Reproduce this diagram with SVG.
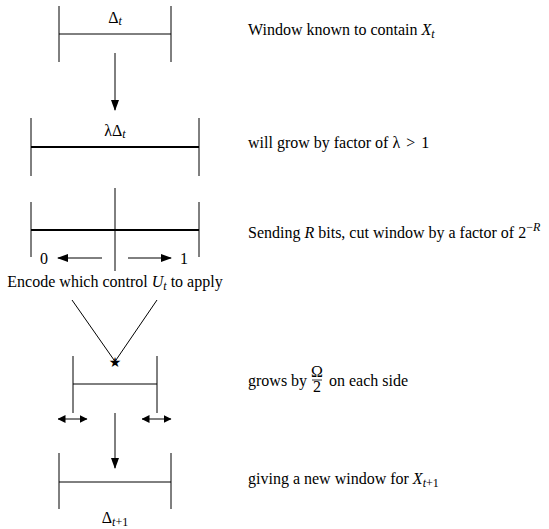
<svg xmlns="http://www.w3.org/2000/svg" width="549" height="529" viewBox="0 0 549 529">
<style>
.t{font-family:"Liberation Serif","Times New Roman",serif;font-size:16px;fill:#000}
.i{font-style:italic}
.s{font-size:12px}
.ln{stroke:#000;stroke-width:1;fill:none}
.th{stroke:#000;stroke-width:2;fill:none}
</style>
<defs>
<marker id="ah" markerWidth="11" markerHeight="8" refX="10" refY="4" orient="auto" markerUnits="userSpaceOnUse">
<path d="M0,0 L11,4 L0,8 Z" fill="#000"/>
</marker>
<marker id="sh" markerWidth="8" markerHeight="8" refX="7.5" refY="4" orient="auto-start-reverse" markerUnits="userSpaceOnUse">
<path d="M0,0 L8,4 L0,8 Z" fill="#000"/>
</marker>
</defs>
<rect width="549" height="529" fill="#fff"/>
<g id="window1">
<line class="ln" x1="59" y1="6" x2="59" y2="62"/>
<line class="ln" x1="171" y1="6" x2="171" y2="62"/>
<line class="ln" x1="59" y1="34" x2="171" y2="34"/>
<text class="t" x="115" y="23" text-anchor="middle" font-size="15">Δ<tspan class="i s" dy="2">t</tspan></text>
</g>
<g id="window2">
<line class="ln" x1="31" y1="118" x2="31" y2="176"/>
<line class="ln" x1="199" y1="118" x2="199" y2="176"/>
<line class="th" x1="31" y1="147" x2="199" y2="147"/>
<text class="t" x="115" y="136" text-anchor="middle" font-size="15">λΔ<tspan class="i s" dy="2">t</tspan></text>
</g>
<g id="window3">
<line class="ln" x1="31" y1="202" x2="31" y2="257"/>
<line class="ln" x1="199" y1="202" x2="199" y2="257"/>
<line class="ln" x1="115" y1="188" x2="115" y2="271"/>
<line class="th" x1="31" y1="230" x2="199" y2="230"/>
<text class="t" x="44" y="264" text-anchor="middle">0</text>
<text class="t" x="184" y="264" text-anchor="middle">1</text>
<text class="t" x="115" y="287" text-anchor="middle">Encode which control <tspan class="i">U</tspan><tspan class="i s" dy="3">t</tspan><tspan dy="-3"> to apply</tspan></text>
</g>
<g id="window4">
<line class="ln" x1="73" y1="356" x2="73" y2="413"/>
<line class="ln" x1="157" y1="356" x2="157" y2="413"/>
<line class="ln" x1="73" y1="384" x2="157" y2="384"/>
<text x="115" y="367" text-anchor="middle" font-family="DejaVu Sans,sans-serif" font-size="14">★</text>
</g>
<g id="window5">
<line class="ln" x1="59" y1="453" x2="59" y2="509"/>
<line class="ln" x1="171" y1="453" x2="171" y2="509"/>
<line class="ln" x1="59" y1="482" x2="171" y2="482"/>
<text class="t" x="115" y="523" text-anchor="middle" font-size="15">Δ<tspan class="i s" dy="3">t</tspan><tspan class="s">+1</tspan></text>
</g>
<g id="connectors">
<line class="ln" x1="115" y1="53" x2="115" y2="110" marker-end="url(#ah)"/>
<line class="ln" x1="102" y1="258" x2="58" y2="258" marker-end="url(#ah)"/>
<line class="ln" x1="128" y1="258" x2="171" y2="258" marker-end="url(#ah)"/>
<line class="ln" x1="72" y1="300" x2="114" y2="360" stroke-width="1.3"/>
<line class="ln" x1="157" y1="300" x2="116" y2="360" stroke-width="1.3"/>
<line class="ln" x1="58" y1="419" x2="87" y2="419" marker-start="url(#sh)" marker-end="url(#sh)"/>
<line class="ln" x1="142" y1="419" x2="171" y2="419" marker-start="url(#sh)" marker-end="url(#sh)"/>
<line class="ln" x1="115" y1="413" x2="115" y2="468" marker-end="url(#ah)"/>
</g>
<g id="labels">
<text class="t" x="248" y="35">Window known to contain <tspan class="i">X</tspan><tspan class="i s" dy="3">t</tspan></text>
<text class="t" x="248" y="148">will grow by factor of λ <tspan dx="2">&gt;</tspan><tspan dx="2"> 1</tspan></text>
<text class="t" x="248" y="238">Sending <tspan class="i">R</tspan> bits, cut window by a factor of 2<tspan class="s" dy="-7">−</tspan><tspan class="i s">R</tspan></text>
<text class="t" x="248" y="386">grows by</text>
<text class="t" x="317" y="377" text-anchor="middle" font-size="10">Ω<tspan x="317" dy="15">2</tspan></text>
<line x1="312" y1="380" x2="322" y2="380" stroke="#000" stroke-width="0.8"/>
<text class="t" x="329" y="386">on each side</text>
<text class="t" x="248" y="484">giving a new window for <tspan class="i">X</tspan><tspan class="i s" dy="3">t</tspan><tspan class="s">+1</tspan></text>
</g>
</svg>
